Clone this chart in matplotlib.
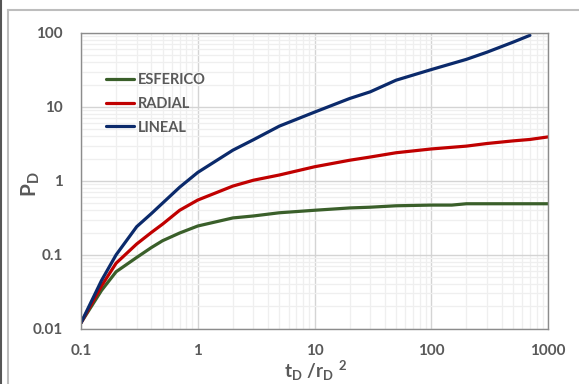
import matplotlib
matplotlib.use("Agg")
import matplotlib.pyplot as plt
from matplotlib.lines import Line2D
from matplotlib.ticker import FixedLocator, FixedFormatter, LogLocator, NullFormatter

plt.rcParams['font.family'] = ['Lato', 'DejaVu Sans']
plt.rcParams['mathtext.fontset'] = 'custom'
plt.rcParams['mathtext.rm'] = 'Lato'
plt.rcParams['mathtext.it'] = 'Lato'
plt.rcParams['mathtext.bf'] = 'Lato:bold'

# data
t_lineal = [0.1, 0.15, 0.2, 0.3, 0.4, 0.5, 0.7, 1, 2, 3, 5, 10, 20, 30, 50, 100, 200, 300, 500, 700]
p_lineal = [0.012, 0.045, 0.10, 0.24, 0.36, 0.50, 0.82, 1.3, 2.6, 3.6, 5.5, 8.5, 13, 16, 23, 32, 44, 55, 75, 93]

t_radial = [0.1, 0.15, 0.2, 0.3, 0.4, 0.5, 0.7, 1, 2, 3, 5, 10, 20, 30, 50, 100, 200, 300, 500, 700, 1000]
p_radial = [0.012, 0.038, 0.077, 0.14, 0.20, 0.26, 0.40, 0.55, 0.85, 1.02, 1.2, 1.55, 1.9, 2.1, 2.4, 2.7, 2.95, 3.2, 3.47, 3.63, 3.93]

t_esferico = [0.1, 0.15, 0.2, 0.3, 0.4, 0.5, 0.7, 1, 2, 3, 5, 10, 20, 30, 50, 100, 150, 200, 500, 1000]
p_esferico = [0.012, 0.033, 0.059, 0.092, 0.125, 0.155, 0.197, 0.245, 0.315, 0.335, 0.37, 0.40, 0.43, 0.44, 0.46, 0.47, 0.47, 0.49, 0.49, 0.49]

x_ticks = [0.1, 1, 10, 100, 1000]
x_labels = ["0.1", "1", "10", "100", "1000"]
y_ticks = [0.01, 0.1, 1, 10, 100]
y_labels = ["0.01", "0.1", "1", "10", "100"]

W, H = 579, 384
fig = plt.figure(figsize=(W / 100, H / 100), dpi=100)
fig.patch.set_facecolor('white')
ax = fig.add_axes([81 / W, 1 - 328.7 / H, (548 - 81) / W, (328.7 - 33) / H])

ax.plot(t_esferico, p_esferico, color='#3A5F2A', lw=2.3, label='ESFERICO', solid_capstyle='round', solid_joinstyle='round')
ax.plot(t_radial, p_radial, color='#C00000', lw=2.3, label='RADIAL', solid_capstyle='round', solid_joinstyle='round')
ax.plot(t_lineal, p_lineal, color='#0B2A6B', lw=2.3, label='LINEAL', solid_capstyle='round', solid_joinstyle='round')

ax.set_xscale('log')
ax.set_yscale('log')
ax.set_xlim(0.1, 1000)
ax.set_ylim(0.01, 100)

ax.xaxis.set_major_locator(FixedLocator(x_ticks))
ax.xaxis.set_major_formatter(FixedFormatter(x_labels))
ax.yaxis.set_major_locator(FixedLocator(y_ticks))
ax.yaxis.set_major_formatter(FixedFormatter(y_labels))
ax.xaxis.set_minor_locator(LogLocator(base=10, subs=range(2, 10), numticks=20))
ax.yaxis.set_minor_locator(LogLocator(base=10, subs=range(2, 10), numticks=20))
ax.xaxis.set_minor_formatter(NullFormatter())
ax.yaxis.set_minor_formatter(NullFormatter())

ax.grid(which='major', color='#D4D4D4', lw=1.0)
ax.grid(which='minor', color='#EFEFEF', lw=0.9)
ax.set_axisbelow(True)
ax.tick_params(which='both', length=0)
ax.tick_params(axis='y', pad=13, labelsize=11, labelcolor='#595959')
ax.tick_params(axis='x', pad=11, labelsize=11, labelcolor='#595959')
for lab in ax.get_xticklabels() + ax.get_yticklabels():
    lab.set_fontweight('bold')

for s in ax.spines.values():
    s.set_color('#8C8C8C')
    s.set_linewidth(1.0)

fig.text(316 / W, 1 - 383 / H, r'$\mathbf{t_D\ /r_D\ ^{2}}$', fontsize=13.5, color='#595959',
         ha='center', va='bottom')
fig.text(31 / W, 1 - 184 / H, r'$\mathbf{P_D}$', fontsize=15, color='#595959',
         ha='center', va='center', rotation=90)

leg = ax.legend(loc='upper left', bbox_to_anchor=(0.025, 0.91), frameon=False,
                handlelength=1.9, handletextpad=0.3, labelspacing=0.68,
                prop={'weight': 'bold', 'size': 10.5})
for txt in leg.get_texts():
    txt.set_color('#595959')

# outer frame
fig.add_artist(Line2D([8 / W, 1], [1 - 10 / H, 1 - 10 / H], transform=fig.transFigure, color='#BDBDBD', lw=1.5))
fig.add_artist(Line2D([8 / W, 8 / W], [0, 1 - 10 / H], transform=fig.transFigure, color='#BDBDBD', lw=1.5))
fig.add_artist(Line2D([1 / W, 1 / W], [0, 1], transform=fig.transFigure, color='#555555', lw=1.5))

fig.savefig('out.png', dpi=100)
